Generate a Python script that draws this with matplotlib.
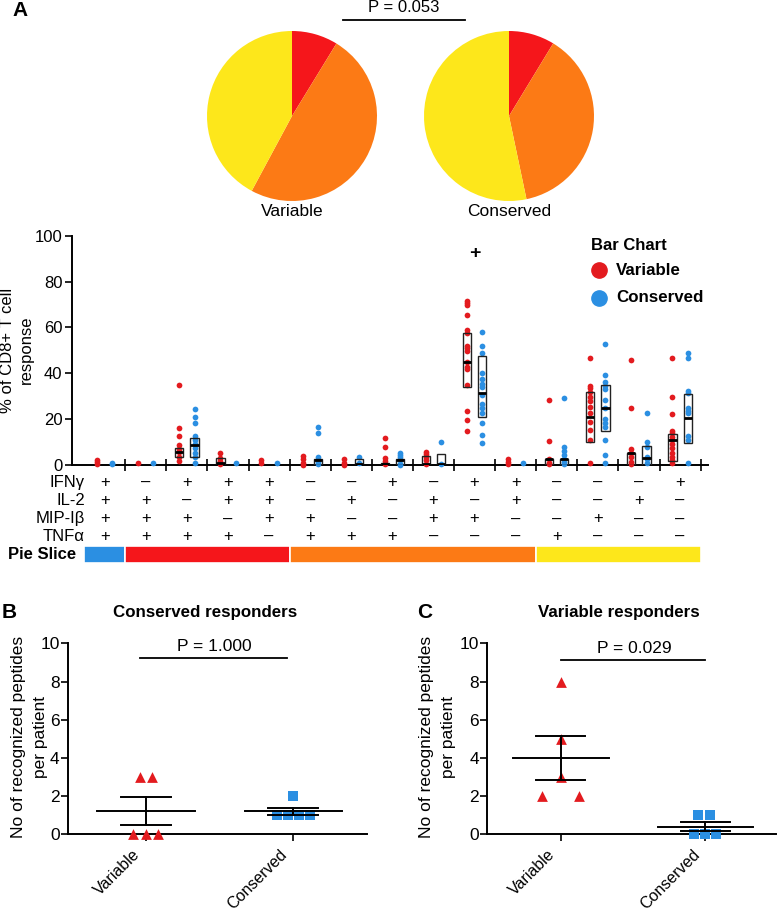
import numpy as np
import matplotlib
matplotlib.use('Agg')
import matplotlib.pyplot as plt
import matplotlib.transforms as mtransforms
from matplotlib.patches import Rectangle
from matplotlib.lines import Line2D

plt.rcParams['font.family'] = ['Liberation Sans', 'DejaVu Sans']

# ---------------- data ----------------
pie_labels = ['Variable', 'Conserved']
pie_slice_names = ['3 functions', '2 functions', '1 function']
pie_variable = [8.75, 49.1, 42.15]
pie_conserved = [8.7, 38.0, 53.3]
pie_p_text = 'P = 0.053'

cytokines = ['IFNγ', 'IL-2', 'MIP-Iβ', 'TNFα']
table_rows = [
    ['+', '–', '+', '+', '+', '–', '–', '+', '–', '+', '+', '–', '–', '–', '+'],
    ['+', '+', '–', '+', '+', '–', '+', '–', '+', '–', '+', '–', '–', '+', '–'],
    ['+', '+', '+', '–', '+', '+', '–', '–', '+', '+', '–', '–', '+', '–', '–'],
    ['+', '+', '+', '+', '–', '+', '+', '+', '–', '–', '–', '+', '–', '–', '–'],
]
slice_counts = [1, 4, 6, 4]

variable_vals = [
    [2.2, 1.2, 0.3],
    [0.7],
    [34.7, 16.3, 12.6, 8.7, 7.0, 5.8, 3.6, 1.7],
    [5.4, 2.9, 1.7, 0.6],
    [2.2, 1.0],
    [3.9, 2.5, 1.0, 0.2],
    [2.5, 1.0, 0.2],
    [11.6, 8.0, 2.9, 1.9, 0.6],
    [5.8, 4.8, 3.6, 2.2, 0.6],
    [71.5, 70.5, 69.8, 65.5, 58.9, 57.4, 51.9, 50.9, 49.9, 45.1, 42.9, 41.7, 34.9, 23.7, 19.6, 14.8],
    [2.5, 1.5, 0.4],
    [28.2, 10.5, 2.5, 1.0, 0.4],
    [46.5, 34.6, 33.4, 31.7, 29.8, 27.9, 25.4, 22.5, 18.9, 15.3, 10.9, 0.7],
    [45.6, 24.7, 7.0, 5.1, 3.4, 1.5, 0.4],
    [46.8, 29.6, 22.2, 15.0, 13.8, 12.3, 10.9, 9.2, 7.3, 5.1, 3.4, 2.2, 0.7],
]
conserved_vals = [
    [1.0, 0.5],
    [0.7],
    [24.3, 20.8, 18.2, 12.6, 10.9, 9.0, 7.3, 5.4, 3.6, 0.7],
    [0.7],
    [0.7],
    [16.7, 13.8, 3.4, 1.5, 0.6],
    [3.6, 0.7],
    [5.4, 4.4, 3.4, 2.2, 0.6, 0.2],
    [10.2, 0.6],
    [58.1, 52.0, 48.7, 40.0, 37.4, 35.3, 34.2, 30.5, 26.5, 24.7, 22.8, 18.2, 13.1, 9.7],
    [0.7],
    [29.1, 8.0, 6.3, 4.4, 2.5, 1.5, 0.4],
    [52.6, 39.3, 36.3, 34.6, 33.0, 28.3, 24.7, 19.9, 18.5, 16.7, 10.9, 4.4, 0.7],
    [22.8, 10.2, 8.0, 3.6, 2.5, 0.7],
    [48.7, 46.8, 32.3, 31.3, 24.7, 23.7, 22.5, 12.6, 10.9, 0.7],
]
nan = np.nan
var_q1 = [nan, nan, 3.3, 0.0, nan, nan, nan, 0.0, 0.0, 33.9, nan, 0.0, 9.9, 0.0, 1.9]
var_med = [nan, nan, 5.5, 1.0, nan, nan, nan, 0.6, 0.6, 45.1, nan, 2.6, 20.8, 5.4, 10.9]
var_q3 = [nan, nan, 7.5, 3.0, nan, nan, nan, 0.9, 3.9, 57.4, nan, 2.8, 32.0, 5.4, 13.5]
con_q1 = [nan, nan, 3.4, nan, nan, 0.0, 0.0, 0.0, 0.0, 21.1, nan, 0.0, 15.0, 0.0, 9.5]
con_med = [nan, nan, 8.7, nan, nan, 2.2, 0.5, 2.0, 0.5, 31.3, nan, 2.6, 24.7, 2.9, 20.6]
con_q3 = [nan, nan, 11.6, nan, nan, 2.6, 2.5, 2.4, 4.8, 47.5, nan, 2.8, 34.9, 8.4, 31.0]
sig_group = 10

b_variable = [3, 3, 0, 0, 0]
b_conserved = [2, 1, 1, 1, 1]
c_variable = [8, 5, 3, 2, 2]
c_conserved = [1, 1, 0, 0, 0]
b_p_text = 'P = 1.000'
c_p_text = 'P = 0.029'

# ---------------- style ----------------
RED = '#E31B1F'
BLUE = '#2B8FE2'
PIE_COLORS = ['#F5161B', '#FC7A15', '#FDE71B']
SLICE_COLORS = ['#2B8FE2', '#F5161B', '#FC7A15', '#FDE71B']

W, H = 777, 918
fig = plt.figure(figsize=(W / 100, H / 100), dpi=100)


def ax_px(x0, y0, x1, y1):
    return fig.add_axes([x0 / W, 1 - y1 / H, (x1 - x0) / W, (y1 - y0) / H])


def fx(x):
    return x / W


def fy(y):
    return 1 - y / H


# ---------------- panel A: pies ----------------
fig.text(fx(12), fy(11), 'A', weight='bold', size=15, ha='left', va='center')
for cx, vals, lab in [(292, pie_variable, pie_labels[0]), (509, pie_conserved, pie_labels[1])]:
    a = ax_px(cx - 85, 31, cx + 85, 201)
    a.pie(vals, colors=PIE_COLORS, startangle=90, counterclock=False, radius=1,
          wedgeprops=dict(linewidth=0))
    a.set_xlim(-1, 1)
    a.set_ylim(-1, 1)
    fig.text(fx(cx), fy(212), lab, ha='center', va='center', size=12.5)
fig.add_artist(Line2D([fx(343), fx(465)], [fy(20), fy(20)], color='black', lw=1.3,
                      transform=fig.transFigure))
fig.text(fx(404), fy(7), pie_p_text, ha='center', va='center', size=12)

# ---------------- panel A: scatter ----------------
ng = len(variable_vals)
xl = (0.204, 15.68)
ax = ax_px(72, 235.7, 708, 465)
off = 0.185
bw = 0.2
for i in range(ng):
    x = i + 1
    for vals, dx, col, q1, med, q3 in [
        (variable_vals[i], -off, RED, var_q1[i], var_med[i], var_q3[i]),
        (conserved_vals[i], off, BLUE, con_q1[i], con_med[i], con_q3[i]),
    ]:
        ax.scatter(np.full(len(vals), x + dx), vals, s=17, color=col, linewidths=0,
                   zorder=3, clip_on=False)
        if not np.isnan(med):
            ax.add_patch(Rectangle((x + dx - bw / 2, q1), bw, q3 - q1, fill=False,
                                   edgecolor='#222222', lw=1.0, zorder=4))
            ax.plot([x + dx - bw / 2, x + dx + bw / 2], [med, med], color='black',
                    lw=2.0, zorder=5, solid_capstyle='butt')
ax.text(sig_group, 92.3, '+', ha='center', va='center', weight='bold', size=14)
ax.set_xlim(*xl)
ax.set_ylim(0, 100)
ax.set_yticks(range(0, 101, 20))
ax.set_xticks(np.arange(1.5, ng + 1, 1.0))
ax.set_xticklabels([])
ax.tick_params(axis='x', direction='inout', length=9, width=1.2)
ax.tick_params(axis='y', direction='out', length=5, width=1.2, labelsize=12, pad=2)
for s in ['top', 'right']:
    ax.spines[s].set_visible(False)
for s in ['left', 'bottom']:
    ax.spines[s].set_linewidth(1.4)
fig.text(fx(8), fy(350), '% of CD8+ T cell', rotation=90, ha='center', va='center', size=12)
fig.text(fx(26), fy(350), 'response', rotation=90, ha='center', va='center', size=12)

# legend
fig.text(fx(591), fy(245), 'Bar Chart', weight='bold', size=12, ha='left', va='center')
for yy, col, lab in [(270, RED, 'Variable'), (297.7, BLUE, 'Conserved')]:
    fig.add_artist(Line2D([fx(599)], [fy(yy)], marker='o', ms=11, color=col,
                          linestyle='none', transform=fig.transFigure))
    fig.text(fx(616), fy(yy), lab, weight='bold', size=12.2, ha='left', va='center')

# ---------------- table ----------------
ta = ax_px(72, 470, 708, 570)
ta.set_xlim(*xl)
ta.set_ylim(570, 470)
ta.axis('off')
row_y = [482.7, 500.7, 519, 536.5]
for r, (name, yy) in enumerate(zip(cytokines, row_y)):
    ta.text(0.52, yy, name, ha='right', va='center', size=12)
    for i, sym in enumerate(table_rows[r]):
        ta.text(i + 1, yy, sym, ha='center', va='center', size=12)
lefts = 0.5 + np.concatenate([[0], np.cumsum(slice_counts)[:-1]])
ta.barh(554.3, slice_counts, left=lefts, height=16.5, color=SLICE_COLORS,
        edgecolor='white', linewidth=1.2)
ta.text(0.30, 554.3, 'Pie Slice', ha='right', va='center', weight='bold', size=12)


# ---------------- panels B and C ----------------
def dot_panel(a, var, cons, var_jit, con_jit, p_text, px0, px1, py):
    a.scatter(np.array(var_jit), var, marker='^', s=60, color=RED, linewidths=0,
              zorder=3, clip_on=False)
    a.scatter(1 + np.array(con_jit), cons, marker='s', s=55, color=BLUE, linewidths=0,
              zorder=3, clip_on=False)
    for x, vals in [(0, var), (1, cons)]:
        v = np.array(vals, float)
        m = v.mean()
        se = v.std(ddof=1) / np.sqrt(len(v))
        a.plot([x - 0.33, x + 0.33], [m, m], color='black', lw=1.4, zorder=4)
        a.plot([x - 0.17, x + 0.17], [m + se, m + se], color='black', lw=1.4, zorder=4)
        a.plot([x - 0.17, x + 0.17], [m - se, m - se], color='black', lw=1.4, zorder=4)
        a.plot([x, x], [m - se, m + se], color='black', lw=1.4, zorder=4)
    a.plot([px0, px1], [py, py], color='black', lw=1.3, clip_on=False)
    a.text((px0 + px1) / 2 + 0.01, py + 0.62, p_text, ha='center', va='center', size=12.5)
    a.set_ylim(0, 10)
    a.set_yticks(range(0, 11, 2))
    a.set_xticks([0, 1])
    a.set_xticklabels(['Variable', 'Conserved'], rotation=45, ha='right', va='center',
                      rotation_mode='anchor', fontsize=11.5)
    a.tick_params(axis='both', direction='out', length=5, width=1.2)
    a.tick_params(axis='y', labelsize=12.5, pad=1)
    a.tick_params(axis='x', pad=8)
    shift = mtransforms.ScaledTranslation(-8 / 100, 0, fig.dpi_scale_trans)
    for lab in a.get_xticklabels():
        lab.set_transform(lab.get_transform() + shift)
    for s in ['top', 'right']:
        a.spines[s].set_visible(False)
    for s in ['left', 'bottom']:
        a.spines[s].set_linewidth(1.4)


axb = ax_px(68, 643.3, 366.7, 834.3)
axb.set_xlim(-0.53, 1.5)
dot_panel(axb, b_variable, b_conserved, [-0.04, 0.04, -0.085, 0.0, 0.08],
          [0.0, -0.112, -0.037, 0.037, 0.112], b_p_text, -0.04, 0.955, 9.21)
fig.text(fx(9), fy(612), 'B', weight='bold', size=15, ha='center', va='center')
fig.text(fx(205), fy(612), 'Conserved responders', weight='bold', size=12.2, ha='center',
         va='center')
fig.text(fx(19), fy(737), 'No of recognized peptides', rotation=90,
         ha='center', va='center', size=12.5)
fig.text(fx(40), fy(737), 'per patient', rotation=90,
         ha='center', va='center', size=12.5)

axc = ax_px(487.3, 643.3, 776, 834.3)
axc.set_xlim(-0.51, 1.49)
dot_panel(axc, c_variable, c_conserved, [0.0, 0.0, 0.0, -0.13, 0.125],
          [-0.05, 0.035, -0.076, 0.0, 0.076], c_p_text, 0.0, 1.0, 9.1)
fig.text(fx(425), fy(612), 'C', weight='bold', size=15, ha='center', va='center')
fig.text(fx(619), fy(612), 'Variable responders', weight='bold', size=12.2, ha='center',
         va='center')
fig.text(fx(426.7), fy(737), 'No of recognized peptides', rotation=90,
         ha='center', va='center', size=12.5)
fig.text(fx(449), fy(737), 'per patient', rotation=90,
         ha='center', va='center', size=12.5)

fig.savefig('out.png', dpi=100)
